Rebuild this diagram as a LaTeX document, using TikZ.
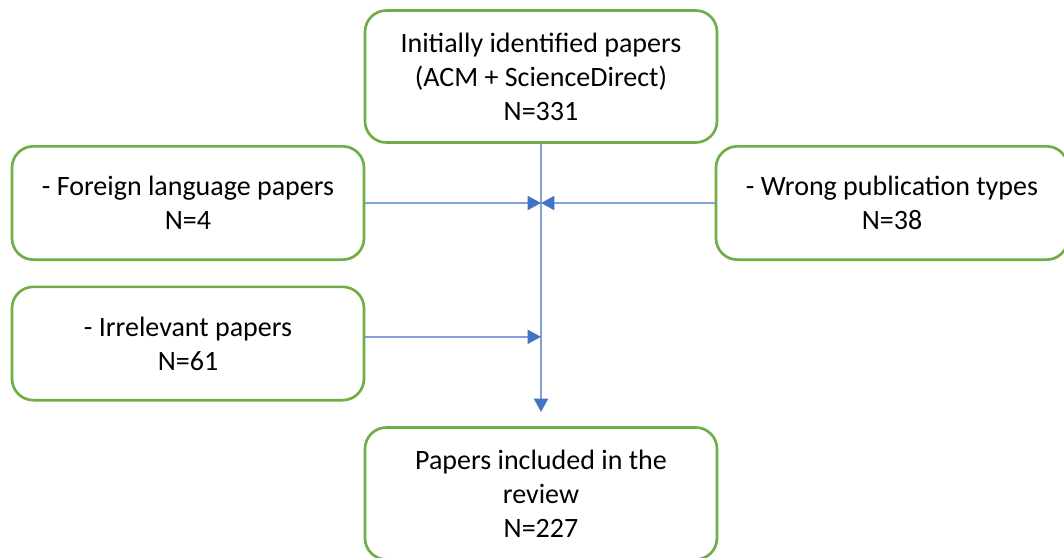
\documentclass[tikz,border=0pt]{standalone}
\usepackage{fontspec}
\setmainfont{Carlito}
\usetikzlibrary{arrows.meta}

\definecolor{boxgreen}{RGB}{112,173,71}
\definecolor{linkblue}{RGB}{130,160,220}
\definecolor{tipblue}{RGB}{68,114,196}

\begin{document}
\begin{tikzpicture}[x=0.75pt, y=-0.75pt,
  >={Triangle[length=10pt, width=10.5pt, color=tipblue]},
  stagebox/.style={draw=boxgreen, line width=2pt, rounded corners=16pt,
    align=center, inner sep=0pt, minimum width=264pt,
    font=\fontsize{21}{25.5}\selectfont},
  link/.style={->, draw=linkblue, line width=1.4pt}]
  % Page frame
  \useasboundingbox (0,0) rectangle (1064,557);

  % Start and end of the selection
  \node[stagebox, minimum height=99pt] (init) at (541,76.5)
    {Initially identified papers\\(ACM + ScienceDirect)\\N=331};
  \node[stagebox, minimum height=99pt] (review) at (541,493.5)
    {Papers included in the\\review\\N=227};

  % Excluded papers
  \node[stagebox, minimum height=85pt] (foreign) at (188,203)
    {- Foreign language papers\\N=4};
  \node[stagebox, minimum height=85pt] (wrongtype) at (892,203)
    {- Wrong publication types\\N=38};
  \node[stagebox, minimum height=85pt] (irrelevant) at (188,343.5)
    {- Irrelevant papers\\N=61};

  % Connectors
  \coordinate (flowend) at (541,412);
  \draw[link] (init.south) -- (flowend);
  \draw[link] (foreign.east) -- (foreign.east -| init.south);
  \draw[link] (wrongtype.west) -- (wrongtype.west -| init.south);
  \draw[link] ([yshift=5pt]irrelevant.east) -- ([yshift=5pt]irrelevant.east -| init.south);
\end{tikzpicture}
\end{document}
